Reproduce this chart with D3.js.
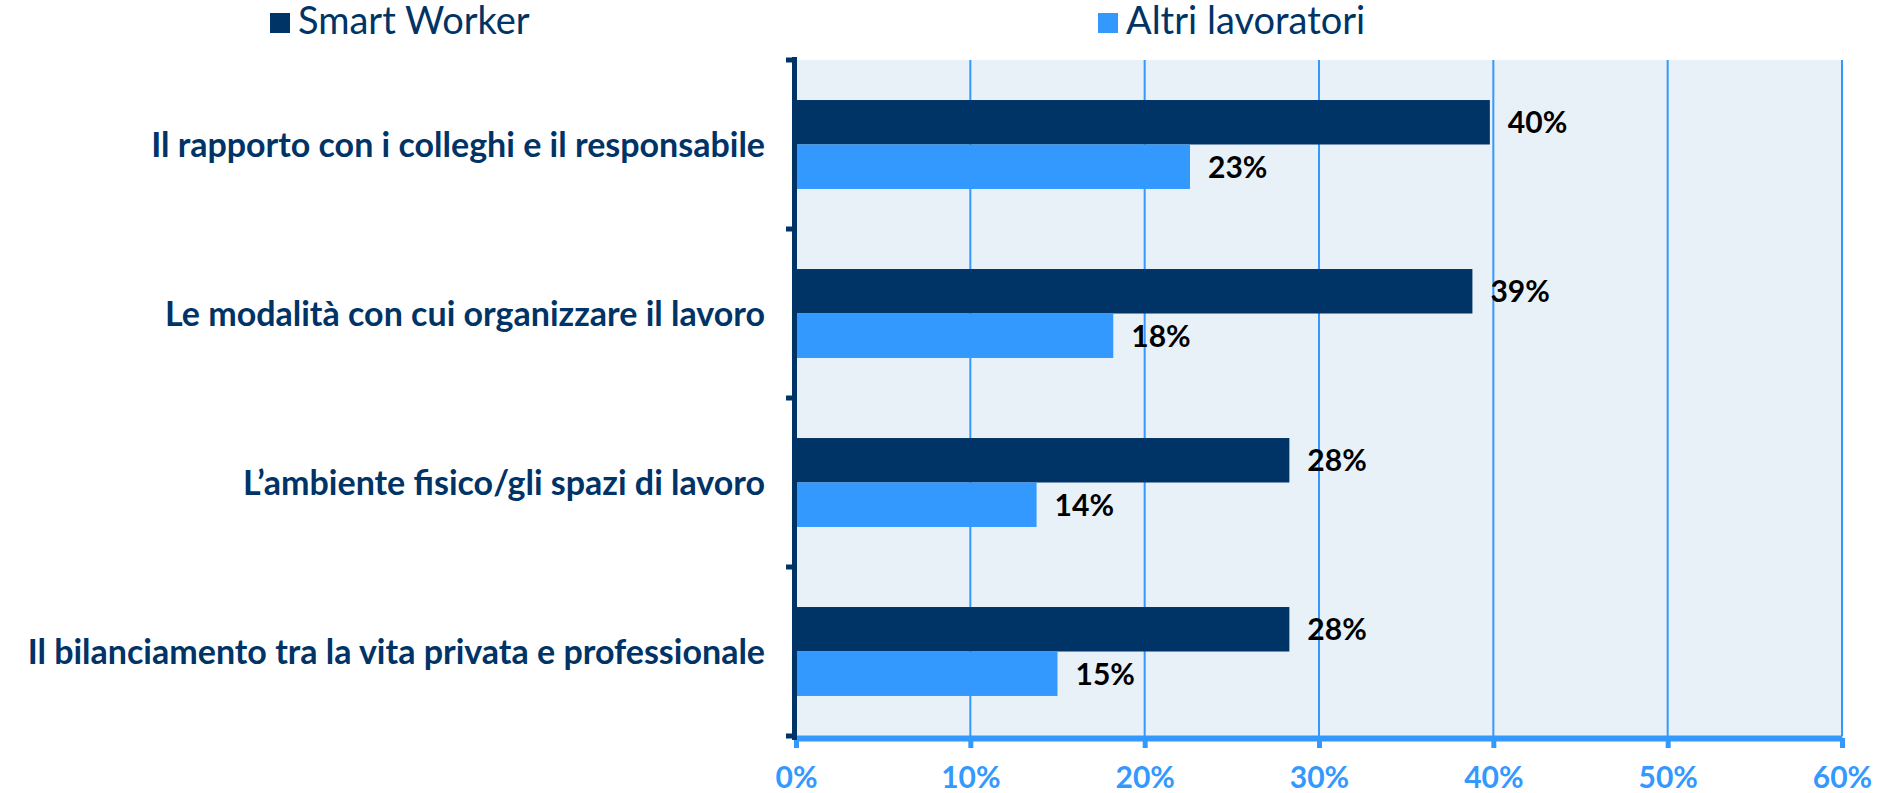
<!DOCTYPE html>
<html>
<head>
<meta charset="utf-8">
<script src="https://cdn.jsdelivr.net/npm/d3@7"></script>
<style>
  body { margin: 0; background: #fff; }
  svg { display: block; }
  .cat-label { font-family: Lato, "Open Sans", sans-serif; font-weight: bold; fill: #003366; }
  .val-label { font-family: Lato, "Open Sans", sans-serif; font-weight: bold; fill: #000; }
  .legend-text { font-family: Lato, "Open Sans", sans-serif; fill: #003366; }
</style>
</head>
<body>
<div id="chart"></div>
<script>
// categories (top to bottom)
const categories = [
    "Il rapporto con i colleghi e il responsabile",
    "Le modalità con cui organizzare il lavoro",
    "L\u2019ambiente fisico/gli spazi di lavoro",
    "Il bilanciamento tra la vita privata e professionale"
];
const seriesNames = ["Smart Worker", "Altri lavoratori"];
const smartWorker = [0.398, 0.388, 0.283, 0.283];
const altriLavoratori = [0.226, 0.182, 0.138, 0.150];
const xTicks = [0, 0.1, 0.2, 0.3, 0.4, 0.5, 0.6];

const colors = { "Smart Worker": "#003366", "Altri lavoratori": "#3399FF" };

const W = 1898, H = 793;
const plot = { left: 796, right: 1842, top: 60, bottom: 736 };

const svg = d3.select("#chart")
    .append("svg")
    .attr("width", W)
    .attr("height", H);

// ---------------------------//
//       SCALES               //
// ---------------------------//
const x = d3.scaleLinear()
    .domain([0, 0.6])
    .range([plot.left, plot.right]);

const y = d3.scaleBand()
    .domain(categories)
    .range([plot.top, plot.bottom]);

const ySub = d3.scaleBand()
    .domain(seriesNames)
    .range([0, y.bandwidth()])
    .paddingInner(0)
    .paddingOuter(0.9);

const rows = categories.map(function(c, i) {
    return { cat: c, values: [
        { name: seriesNames[0], v: smartWorker[i] },
        { name: seriesNames[1], v: altriLavoratori[i] }
    ]};
});

// background
svg.append("rect")
    .attr("x", plot.left)
    .attr("y", plot.top)
    .attr("width", x(0.6) - x(0))
    .attr("height", plot.bottom - plot.top)
    .attr("fill", "#E9F1F8");

// gridlines
svg.append("g")
    .selectAll("line")
    .data(xTicks.slice(1))
    .enter()
    .append("line")
    .attr("x1", function(d) { return x(d); })
    .attr("x2", function(d) { return x(d); })
    .attr("y1", plot.top)
    .attr("y2", plot.bottom)
    .attr("stroke", "#3399FF")
    .attr("stroke-width", 2);

// ---------------------------//
//       BARS                 //
// ---------------------------//
const groups = svg.append("g")
    .selectAll("g")
    .data(rows)
    .enter()
    .append("g")
    .attr("transform", function(d) { return "translate(0," + y(d.cat) + ")"; });

groups.selectAll("rect")
    .data(function(d) { return d.values; })
    .enter()
    .append("rect")
    .attr("x", x(0))
    .attr("y", function(d) { return ySub(d.name); })
    .attr("width", function(d) { return x(d.v) - x(0); })
    .attr("height", ySub.bandwidth())
    .attr("fill", function(d) { return colors[d.name]; });

groups.selectAll("text")
    .data(function(d) { return d.values; })
    .enter()
    .append("text")
    .attr("class", "val-label")
    .attr("x", function(d) { return x(d.v) + 18; })
    .attr("y", function(d) { return ySub(d.name) + ySub.bandwidth() / 2; })
    .attr("dy", "0.36em")
    .style("font-size", "30px")
    .text(function(d) { return Math.round(d.v * 100) + "%"; });

// ---------------------------//
//       AXES                 //
// ---------------------------//
const xAxis = svg.append("g")
    .attr("transform", "translate(0,738)")
    .call(d3.axisBottom(x)
        .tickValues(xTicks)
        .tickFormat(d3.format(".0%"))
        .tickSize(10)
        .tickSizeOuter(0)
        .tickPadding(19));

xAxis.select(".domain")
    .attr("stroke", "#3399FF")
    .attr("stroke-width", 6);
xAxis.selectAll(".tick line")
    .attr("stroke", "#3399FF")
    .attr("stroke-width", 5);
xAxis.selectAll(".tick text")
    .attr("fill", "#3399FF")
    .style("font-family", "Lato, 'Open Sans', sans-serif")
    .style("font-weight", "bold")
    .style("font-size", "30px");

// left axis: dark line with ticks at band edges
const edges = categories.map(function(c) { return y(c); }).concat([y.range()[1]]);
const yAxis = svg.append("g");
yAxis.append("line")
    .attr("x1", plot.left - 1.5)
    .attr("x2", plot.left - 1.5)
    .attr("y1", plot.top - 3)
    .attr("y2", plot.bottom + 4)
    .attr("stroke", "#003366")
    .attr("stroke-width", 5);
yAxis.selectAll(".ytick")
    .data(edges)
    .enter()
    .append("line")
    .attr("x1", plot.left - 10)
    .attr("x2", plot.left)
    .attr("y1", function(d) { return d; })
    .attr("y2", function(d) { return d; })
    .attr("stroke", "#003366")
    .attr("stroke-width", 5);

// category labels
svg.append("g")
    .selectAll("text")
    .data(categories)
    .enter()
    .append("text")
    .attr("class", "cat-label")
    .attr("x", 765)
    .attr("y", function(d) { return y(d) + y.bandwidth() / 2; })
    .attr("dy", "0.36em")
    .attr("text-anchor", "end")
    .style("font-size", "34px")
    .text(function(d) { return d; });

// ---------------------------//
//       LEGEND               //
// ---------------------------//
const legendX = [270, 1098];
const legend = svg.append("g")
    .selectAll("g")
    .data(seriesNames)
    .enter()
    .append("g")
    .attr("transform", function(d, i) { return "translate(" + legendX[i] + ",0)"; });

legend.append("rect")
    .attr("x", 0)
    .attr("y", 13)
    .attr("width", 20)
    .attr("height", 20)
    .attr("fill", function(d) { return colors[d]; });

legend.append("text")
    .attr("class", "legend-text")
    .attr("x", 28)
    .attr("y", 34)
    .style("font-size", "38px")
    .text(function(d) { return d; });
</script>
</body>
</html>
